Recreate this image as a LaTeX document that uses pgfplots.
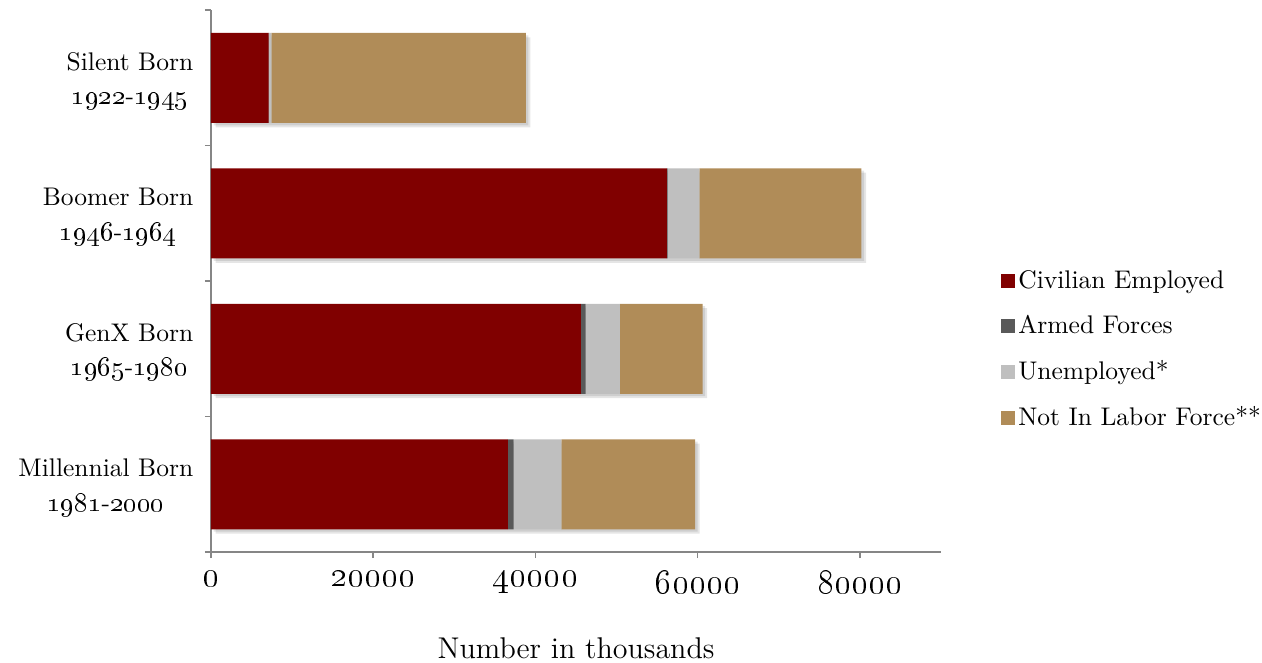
\documentclass[border=0pt]{standalone}
\usepackage{pgfplots}
\pgfplotsset{compat=1.18}

\definecolor{civ}{HTML}{800000}
\definecolor{armed}{HTML}{595959}
\definecolor{unemp}{HTML}{BFBFBF}
\definecolor{nilf}{HTML}{B08C58}
\definecolor{axisgray}{HTML}{868686}

% old-style figures, set a little larger than the surrounding text
\newcommand{\osx}[1]{{\fontsize{13.5bp}{14bp}\selectfont\oldstylenums{#1}}}
\newcommand{\osy}[1]{{\fontsize{11bp}{13.8bp}\selectfont\oldstylenums{#1}}}

\pgfplotsset{
  common/.style={
    at={(0,0)}, anchor=south west,
    scale only axis, width=292bp, height=216.8bp,
    xmin=0, xmax=90000, ymin=-0.5, ymax=3.5,
    bar width=36bp,
  },
}

\begin{document}
\begin{tikzpicture}
\useasboundingbox (-84.4bp,-44.4bp) rectangle (420.4bp,220.8bp);

% soft shadow behind each whole bar (bar totals)
\begin{axis}[common, at={(1.8bp,-1.8bp)}, hide axis, xbar, bar shift=0pt]
\addplot[fill=black, fill opacity=0.10, draw=none] coordinates {(59700,0) (60600,1) (80200,2) (38830,3)};
\end{axis}
\begin{axis}[common, at={(1bp,-1bp)}, hide axis, xbar, bar shift=0pt]
\addplot[fill=black, fill opacity=0.10, draw=none] coordinates {(59700,0) (60600,1) (80200,2) (38830,3)};
\end{axis}

\begin{axis}[
  common,
  xbar stacked,
  axis lines*=left,
  axis line style={draw=axisgray, line width=0.6bp},
  tick align=outside,
  major tick length=2.4bp,
  tick style={draw=axisgray, line width=0.6bp},
  scaled x ticks=false,
  xtick={0,20000,40000,60000,80000},
  xticklabels={\osx{0},\osx{20000},\osx{40000},\osx{60000},\osx{80000}},
  xticklabel style={font=\fontsize{12.2bp}{14bp}\selectfont, yshift=-1.5bp},
  ytick={-0.5,0.5,1.5,2.5,3.5},
  yticklabels={},
  extra y ticks={0,1,2,3},
  extra y tick labels={{Millennial Born\\\osy{1981}-\osy{2000}},{GenX Born\\\osy{1965}-\osy{1980}},{Boomer Born\\\osy{1946}-\osy{1964}},{Silent Born\\\osy{1922}-\osy{1945}}},
  extra y tick style={tick style={draw=none}, yticklabel style={align=center, xshift=-1.2bp, yshift=-1.4bp, font=\fontsize{10.2bp}{13.8bp}\selectfont}},
  xlabel={Number in thousands},
  xlabel style={font=\fontsize{12bp}{14bp}\selectfont, yshift=-10.8bp},
  legend style={at={(axis description cs:1.081,0.3727)}, anchor=west,
    draw=none, fill=none, font=\fontsize{10.2bp}{12.4bp}\selectfont,
    row sep=9.3bp, inner sep=0pt,
    nodes={inner xsep=1.5bp, inner ysep=0pt}},
  legend cell align=left,
  legend image code/.code={\fill[#1] (0bp,-2.8bp) rectangle (5.6bp,2.8bp);},
]
% categories bottom to top: Millennial, GenX, Boomer, Silent
\addplot[fill=civ, draw=none] coordinates {(36600,0) (45600,1) (56200,2) (7100,3)};
\addplot[fill=armed, draw=none] coordinates {(700,0) (600,1) (100,2) (30,3)};
\addplot[fill=unemp, draw=none] coordinates {(5900,0) (4200,1) (3900,2) (300,3)};
\addplot[fill=nilf, draw=none] coordinates {(16500,0) (10200,1) (20000,2) (31400,3)};
\legend{Civilian Employed, Armed Forces, Unemployed*, Not In Labor Force**}
\end{axis}
\end{tikzpicture}
\end{document}
